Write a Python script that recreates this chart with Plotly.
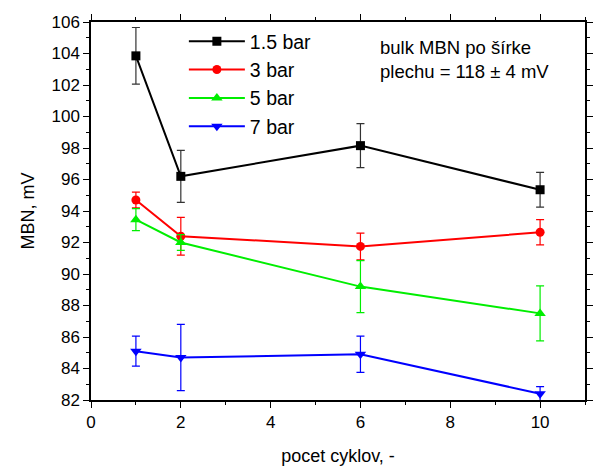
import plotly.graph_objects as go

cycles = [1, 2, 6, 10]
series_names = ["1.5 bar", "3 bar", "5 bar", "7 bar"]
mbn_15 = [103.85, 96.2, 98.15, 95.35]
err_15 = [1.8, 1.65, 1.4, 1.1]
mbn_3 = [94.7, 92.4, 91.75, 92.65]
err_3 = [0.5, 1.2, 0.85, 0.8]
mbn_5 = [93.45, 92.0, 89.2, 87.5]
err_5 = [0.7, 0.5, 1.65, 1.75]
mbn_7 = [85.1, 84.7, 84.9, 82.4]
err_7 = [0.95, 2.1, 1.15, 0.45]

values = [mbn_15, mbn_3, mbn_5, mbn_7]
errors = [err_15, err_3, err_5, err_7]
colors = ["#000000", "#ff0000", "#00ee00", "#0000ff"]
err_colors = ["#333333", "#ff0000", "#00ee00", "#0000ff"]
symbols = ["square", "circle", "triangle-up", "triangle-down"]

fig = go.Figure()
for name, y, e, c, ec, s in zip(series_names, values, errors, colors, err_colors, symbols):
    fig.add_trace(go.Scatter(
        x=cycles, y=y, name=name, mode="lines+markers",
        line=dict(color=c, width=2),
        marker=dict(symbol=s, size=10 if "triangle" in s else 9, color=c),
        error_y=dict(type="data", array=e, visible=True, color=ec, thickness=1.2, width=4),
    ))

font = "Liberation Sans, Arial, sans-serif"
axis_common = dict(
    showline=True, linecolor="black", linewidth=1.5, mirror="ticks",
    ticks="outside", ticklen=6, tickwidth=1.2, tickcolor="black",
    showgrid=False, zeroline=False, automargin=False,
    tickfont=dict(family=font, size=17, color="black"),
    title_font=dict(family=font, size=18, color="black"),
)
fig.update_xaxes(range=[0, 11], dtick=2, tick0=0,
                 minor=dict(ticks="outside", dtick=1, ticklen=3, tickcolor="black", showgrid=False),
                 title_text="pocet cyklov, -", title_standoff=18, **axis_common)
fig.update_yaxes(range=[82, 106], dtick=2, tick0=82,
                 minor=dict(ticks="outside", dtick=1, ticklen=3, tickcolor="black", showgrid=False),
                 title_text="MBN, mV", title_standoff=12, **axis_common)

fig.add_annotation(
    x=0.58, y=0.965, xref="paper", yref="paper", xanchor="left", yanchor="top",
    text="bulk MBN po šírke<br>plechu = 118 ± 4 mV", showarrow=False, align="left",
    font=dict(family=font, size=18.5, color="black"),
)

fig.update_layout(
    width=605, height=468,
    margin=dict(l=91, r=20, t=22, b=68),
    paper_bgcolor="white", plot_bgcolor="white",
    showlegend=True,
    legend=dict(x=0.188, y=1.0, xanchor="left", yanchor="top",
                bgcolor="rgba(0,0,0,0)", font=dict(family=font, size=19.5, color="black"),
                tracegroupgap=0, itemwidth=56),
)

fig.write_html("out.html", config={"displayModeBar": False},
               post_script="document.body.style.margin='0';")
